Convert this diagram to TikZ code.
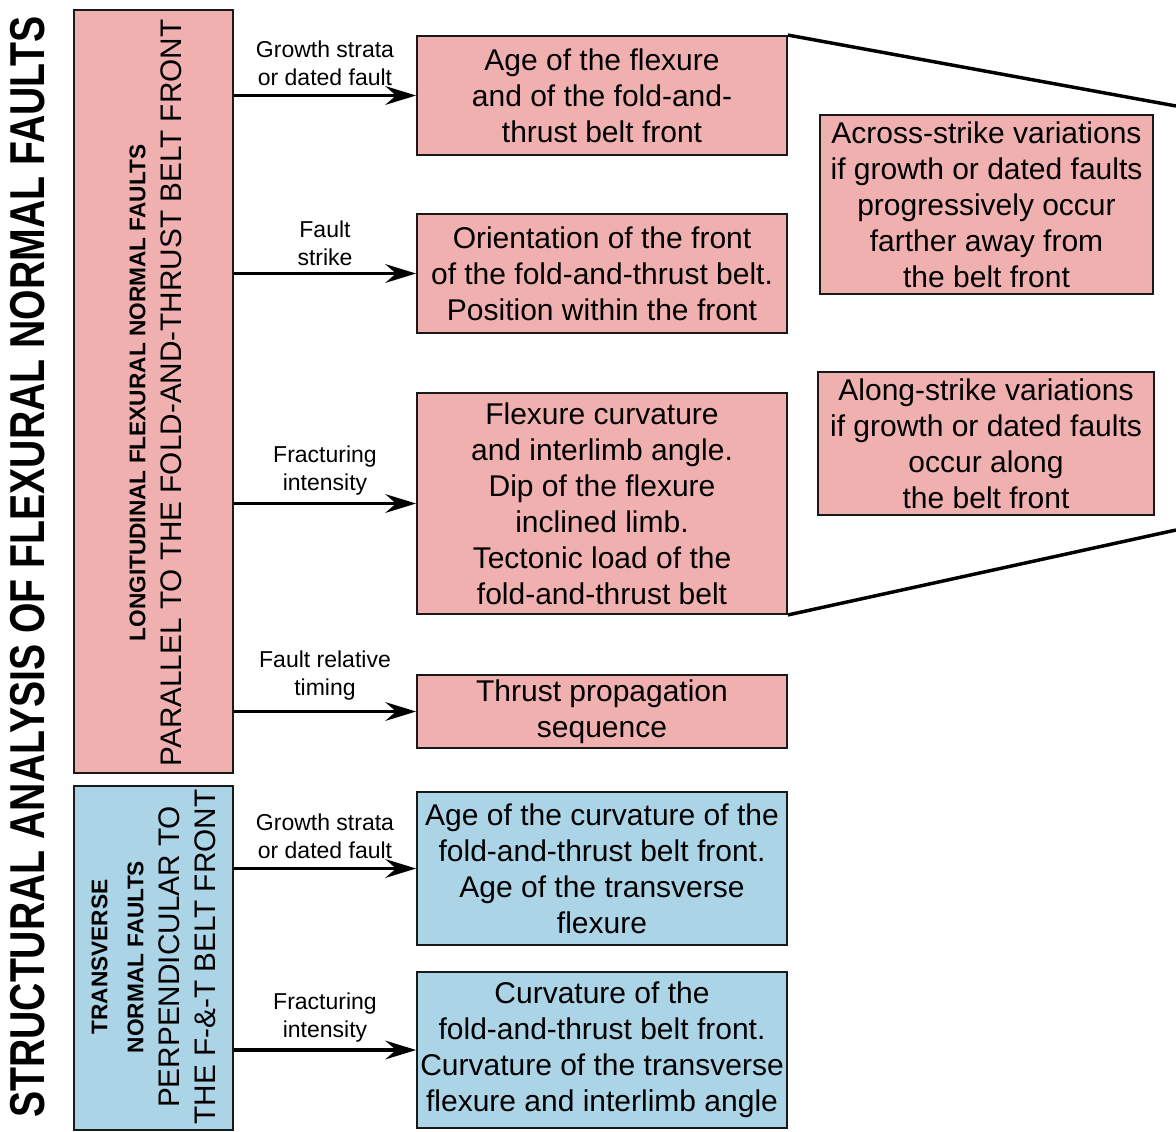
\documentclass[tikz,border=0pt]{standalone}
\usepackage{fontspec}
\setmainfont{Liberation Sans}
\usetikzlibrary{arrows.meta, positioning}

\definecolor{faultpink}{RGB}{241,176,176}
\definecolor{faultblue}{RGB}{171,212,230}

\tikzset{
    box/.style={draw=black!90, line width=1.4pt, inner sep=0pt, align=center,
        font=\fontsize{22.5}{27}\selectfont},
    pinkbox/.style={box, fill=faultpink},
    bluebox/.style={box, fill=faultblue},
    link/.style={-{Stealth[length=23pt, width=14pt, inset=8pt]}, line width=2.8pt},
    cue/.style={align=center, font=\fontsize{17.25}{21}\selectfont},
    sidetext/.style={rotate=90, align=center, font=\fontsize{22.3}{27}\selectfont},
}

\begin{document}
\begin{tikzpicture}[x=0.75pt, y=-0.75pt]
    \useasboundingbox (0,0) rectangle (1176,1131);

    % Title
    \node[rotate=90, font=\bfseries\fontsize{36.75}{44}\selectfont] (title) at (27.5,567)
        {\scalebox{0.8}[1]{STRUCTURAL ANALYSIS OF FLEXURAL NORMAL FAULTS}};

    % Fault groups
    \node[pinkbox, minimum width=119.25pt, minimum height=572.25pt] (lon) at (153.5,391.5) {};
    \node[bluebox, minimum width=119.25pt, minimum height=258pt] (tra) at (153.5,958) {};
    \node[sidetext] (lontext) at (155.5,393)
        {{\bfseries\fontsize{17}{20}\selectfont LONGITUDINAL FLEXURAL NORMAL FAULTS}\\
         PARALLEL TO THE FOLD-AND-THRUST BELT FRONT};
    \node[sidetext] (tratext) at (153.5,957)
        {{\bfseries\fontsize{17}{20}\selectfont TRANSVERSE}\\
         {\bfseries\fontsize{17}{20}\selectfont NORMAL FAULTS}\\
         PERPENDICULAR TO\\THE F-\&-T BELT FRONT};

    % Constraints
    \node[pinkbox, minimum width=277.5pt, minimum height=89.25pt] (age) at (602,95.5)
        {Age of the flexure\\and of the fold-and-\\thrust belt front};
    \node[pinkbox, minimum width=277.5pt, minimum height=89.25pt] (orient) at (602,273.5)
        {Orientation of the front\\of the fold-and-thrust belt.\\Position within the front};
    \node[pinkbox, minimum width=277.5pt, minimum height=165.75pt] (curv) at (602,503.5)
        {Flexure curvature\\and interlimb angle.\\Dip of the flexure\\inclined limb.\\Tectonic load of the\\fold-and-thrust belt};
    \node[pinkbox, minimum width=277.5pt, minimum height=54.75pt] (seq) at (602,711.5)
        {Thrust propagation\\sequence};
    \node[bluebox, minimum width=277.5pt, minimum height=114.75pt] (tage) at (602,868.5)
        {Age of the curvature of the\\fold-and-thrust belt front.\\Age of the transverse\\flexure};
    \node[bluebox, minimum width=277.5pt, minimum height=117pt] (tcurv) at (602,1050)
        {Curvature of the\\fold-and-thrust belt front.\\Curvature of the transverse\\flexure and interlimb angle};

    % Variations
    \node[pinkbox, minimum width=249.75pt, minimum height=134.25pt] (across) at (986.5,204.5)
        {Across-strike variations\\if growth or dated faults\\progressively occur\\farther away from\\the belt front};
    \node[pinkbox, minimum width=252pt, minimum height=107.25pt] (along) at (986,443.5)
        {Along-strike variations\\if growth or dated faults\\occur along\\the belt front};

    % Zoom lines
    \coordinate (zoomtop) at (1176,106);
    \coordinate (zoombot) at (1176,530);
    \draw[line width=2.6pt] (age.north east) -- (zoomtop);
    \draw[line width=2.6pt] (curv.south east) -- (zoombot);

    % Arrows
    \draw[link] (age.west -| lon.east) -- node[cue, midway, yshift=24pt] {Growth strata\\or dated fault} (age.west);
    \draw[link] (orient.west -| lon.east) -- node[cue, midway, yshift=23pt] {Fault\\strike} (orient.west);
    \draw[link] (curv.west -| lon.east) -- node[cue, midway, yshift=25pt] {Fracturing\\intensity} (curv.west);
    \draw[link] (seq.west -| lon.east) -- node[cue, midway, yshift=27pt] {Fault relative\\timing} (seq.west);
    \draw[link] (tage.west -| tra.east) -- node[cue, midway, yshift=24pt] {Growth strata\\or dated fault} (tage.west);
    \draw[link] (tcurv.west -| tra.east) -- node[cue, midway, yshift=24pt] {Fracturing\\intensity} (tcurv.west);
\end{tikzpicture}
\end{document}
